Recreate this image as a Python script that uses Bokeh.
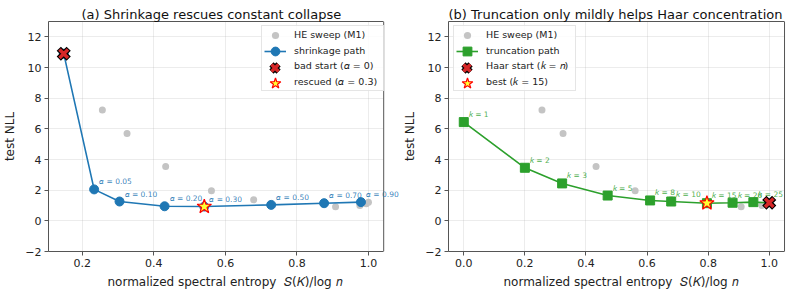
from bokeh.plotting import figure
from bokeh.layouts import row
from bokeh.models import (Range1d, FixedTicker, CustomJSTickFormatter,
                          Legend, LegendItem, Label, LinearAxis, Span,
                          BoxAnnotation)
from bokeh.embed import file_html
from bokeh.resources import INLINE

FONT = "DejaVu Sans"
BLUE = "#1f77b4"
GREEN = "#2ca02c"
RED = "#d62728"
GRAY = "#c4c4c4"
SPINE = "#555555"

# HE sweep (M1): normalized spectral entropy vs test NLL (shown in both panels)
he_entropy = [0.256, 0.325, 0.433, 0.561, 0.679, 0.908, 0.976, 0.994, 1.000]
he_nll = [7.23, 5.69, 3.55, 1.96, 1.37, 0.92, 1.00, 1.11, 1.22]

# (a) shrinkage path, alpha = 0 is the collapsed start
shrink_alpha = ["0", "0.05", "0.10", "0.20", "0.30", "0.50", "0.70", "0.90"]
shrink_entropy = [0.148, 0.233, 0.304, 0.430, 0.541, 0.728, 0.876, 0.979]
shrink_nll = [10.90, 2.05, 1.26, 0.95, 0.93, 1.04, 1.15, 1.22]
rescued_alpha = "0.30"

# (b) truncation path, k = n is the Haar start
trunc_k = ["1", "2", "3", "5", "8", "10", "15", "20", "25", "n"]
trunc_entropy = [0.000, 0.200, 0.322, 0.471, 0.610, 0.679, 0.796, 0.880, 0.948, 1.000]
trunc_nll = [6.44, 3.46, 2.44, 1.65, 1.33, 1.26, 1.15, 1.18, 1.22, 1.18]
best_k = "15"

y_ticks = [-2, 0, 2, 4, 6, 8, 10, 12]
x_ticks_a = [0.2, 0.4, 0.6, 0.8, 1.0]
x_ticks_b = [0.0, 0.2, 0.4, 0.6, 0.8, 1.0]

HEIGHT = 291
BORDER_TOP = 21
BORDER_BOTTOM = 40
FRAME_H = HEIGHT - BORDER_TOP - BORDER_BOTTOM

# legend box geometry (pixels)
LEG_ROW = 16
LEG_GLYPH_W = 26
LEG_STANDOFF = 6
LEG_LABEL_W = 89
LEG_W = LEG_GLYPH_W + LEG_STANDOFF + LEG_LABEL_W
LEG_H = 4 * LEG_ROW
LEG_INSET = 6


def padded(vals, frac=0.05):
    lo, hi = min(vals), max(vals)
    m = (hi - lo) * frac
    return lo - m, hi + m


def style_axis(ax):
    ax.axis_line_color = SPINE
    ax.major_tick_line_color = SPINE
    ax.major_tick_out = 4
    ax.major_tick_in = 0
    ax.minor_tick_line_color = None
    ax.major_label_text_font = FONT
    ax.major_label_text_font_size = "11px"
    ax.major_label_text_color = "#222222"
    ax.axis_label_text_font = FONT
    ax.axis_label_text_font_size = "12px"
    ax.axis_label_text_font_style = "normal"
    ax.axis_label_text_color = "#222222"
    ax.major_label_standoff = 3
    ax.axis_label_standoff = 5


def make_panel(title, width, border_left, axes_w, xr, x_ticks):
    """The plotting frame runs to the right edge of the figure so that point
    labels may spill past the axes box; the box itself is drawn at xr[1]."""
    frame_w = width - border_left
    x_lo, x_hi = xr
    x_ext = x_lo + (x_hi - x_lo) * frame_w / axes_w
    p = figure(width=width, height=HEIGHT, output_backend="svg",
               toolbar_location=None, x_range=Range1d(x_lo, x_ext),
               y_range=Range1d(-2, 13),
               min_border_left=border_left, min_border_right=0,
               min_border_top=BORDER_TOP, min_border_bottom=BORDER_BOTTOM)
    p.title.text = title
    p.title.align = "left"
    p.title.text_font = FONT
    p.title.text_font_size = "13px"
    p.title.text_font_style = "normal"
    p.title.text_color = "#111111"
    p.title.standoff = 0
    # centre the title over the axes box
    p.title.offset = max(0, (axes_w - 7.0 * len(title)) / 2)
    p.outline_line_color = None
    p.background_fill_color = "white"
    p.border_fill_color = "white"
    style_axis(p.xaxis[0])
    style_axis(p.yaxis[0])
    p.xaxis[0].bounds = (x_lo, x_hi)
    p.xaxis[0].ticker = FixedTicker(ticks=x_ticks)
    p.yaxis[0].ticker = FixedTicker(ticks=y_ticks)
    p.xaxis[0].formatter = CustomJSTickFormatter(code="return tick.toFixed(1);")
    p.yaxis[0].formatter = CustomJSTickFormatter(
        code="return tick < 0 ? '\u2212' + Math.abs(tick) : tick.toFixed(0);")
    p.xaxis[0].axis_label = ("normalized spectral entropy\u00a0 "
                             "\U0001D446(\U0001D43E)/log \U0001D45B")
    p.yaxis[0].axis_label = "test NLL"
    p.grid.grid_line_color = "#b0b0b0"
    p.grid.grid_line_alpha = 0.3
    p.grid.grid_line_width = 0.8
    # top edge of the axes box
    top = LinearAxis(ticker=FixedTicker(ticks=[]), bounds=(x_lo, x_hi),
                     axis_line_color=SPINE, major_tick_out=0, major_tick_in=0,
                     minor_tick_out=0, major_label_standoff=0,
                     major_label_text_font_size="0px")
    p.add_layout(top, "above")
    # blank the grid beyond the right edge of the axes box
    p.add_layout(BoxAnnotation(left=x_hi, fill_color="white", fill_alpha=1.0,
                               line_color=None, level="underlay"))
    p.add_layout(Span(location=x_hi, dimension="height", line_color=SPINE,
                      line_width=1))
    return p


def x_marker(p, x, y):
    outline = p.scatter([x], [y], marker="x", size=14, line_color="black",
                        line_width=6)
    fill = p.scatter([x], [y], marker="x", size=12, line_color=RED,
                     line_width=3.5)
    return [outline, fill]


def star_marker(p, x, y):
    return p.scatter([x], [y], marker="star", size=15, fill_color="#ffff33",
                     line_color="red", line_width=1.2)


def add_legend(p, entries, box_x, box_top):
    """entries: list of (label, renderers, glyph_w, glyph_h).
    One bordered legend carries the labels; each symbol is drawn by its own
    transparent legend so that it can be larger than the row height."""
    box_y = FRAME_H - box_top - LEG_H
    proxy = p.scatter(x=[], y=[], alpha=0)
    main = Legend(items=[LegendItem(label=e[0], renderers=[proxy]) for e in entries],
                  location=(box_x, box_y))
    main.label_text_font = FONT
    main.label_text_font_size = "9.5px"
    main.label_text_color = "#222222"
    main.padding = 0
    main.spacing = 0
    main.margin = 0
    main.label_height = LEG_ROW
    main.label_width = LEG_LABEL_W
    main.glyph_height = LEG_ROW
    main.glyph_width = LEG_GLYPH_W
    main.label_standoff = LEG_STANDOFF
    main.border_line_color = "#cccccc"
    main.border_line_width = 1
    main.background_fill_color = "white"
    main.background_fill_alpha = 0.85
    p.add_layout(main)
    for i, (_, rends, gw, gh) in enumerate(entries):
        cx = box_x + LEG_GLYPH_W / 2 + 0.5
        cy = box_y + LEG_H - LEG_ROW / 2 - LEG_ROW * i
        sym = Legend(items=[LegendItem(label=" ", renderers=rends)],
                     location=(cx - gw / 2, cy - gh / 2))
        sym.padding = 0
        sym.spacing = 0
        sym.margin = 0
        sym.glyph_width = gw
        sym.glyph_height = gh
        sym.label_height = gh
        sym.label_width = 0
        sym.label_standoff = 0
        sym.label_text_font_size = "1px"
        sym.border_line_color = None
        sym.background_fill_alpha = 0
        p.add_layout(sym)


# ---- panel (a) ----
AX_A = 339
pa = make_panel("(a) Shrinkage rescues constant collapse", 400, 44, AX_A,
                padded(shrink_entropy + he_entropy), x_ticks_a)
he_a = pa.scatter(he_entropy, he_nll, size=7, fill_color=GRAY, line_color=None)
path_a = pa.line(shrink_entropy, shrink_nll, line_color=BLUE, line_width=1.6)
dots_a = pa.scatter(shrink_entropy, shrink_nll, size=9, fill_color=BLUE,
                    line_color=BLUE)
for a, xv, yv in zip(shrink_alpha, shrink_entropy, shrink_nll):
    if a == "0":
        continue
    pa.add_layout(Label(x=xv, y=yv, text=f"\U0001D6FC = {a}", x_offset=5,
                        y_offset=3, text_font=FONT, text_font_size="7.5px",
                        text_color=BLUE, text_alpha=0.9,
                        text_baseline="bottom"))
bad_a = x_marker(pa, shrink_entropy[0], shrink_nll[0])
i_res = shrink_alpha.index(rescued_alpha)
star_a = star_marker(pa, shrink_entropy[i_res], shrink_nll[i_res])
add_legend(pa, [
    ("HE sweep (M1)", [he_a], 18, 18),
    ("shrinkage path", [path_a, dots_a], 22, 22),
    ("bad start (\U0001D6FC = 0)", bad_a, 25, 25),
    ("rescued (\U0001D6FC = 0.3)", [star_a], 28, 28),
], AX_A - 5 - LEG_W, LEG_INSET)

# ---- panel (b) ----
AX_B = 337
pb = make_panel("(b) Truncation only mildly helps Haar concentration", 392, 47,
                AX_B, padded(trunc_entropy + he_entropy), x_ticks_b)
he_b = pb.scatter(he_entropy, he_nll, size=7, fill_color=GRAY, line_color=None)
path_b = pb.line(trunc_entropy, trunc_nll, line_color=GREEN, line_width=1.6)
sq_b = pb.scatter(trunc_entropy[:-1], trunc_nll[:-1], marker="square", size=9,
                  fill_color=GREEN, line_color=GREEN)
for k, xv, yv in zip(trunc_k, trunc_entropy, trunc_nll):
    if k == "n":
        continue
    pb.add_layout(Label(x=xv, y=yv, text=f"\U0001D458 = {k}", x_offset=5,
                        y_offset=3, text_font=FONT, text_font_size="7.5px",
                        text_color=GREEN, text_alpha=0.85,
                        text_baseline="bottom"))
i_best = trunc_k.index(best_k)
star_b = star_marker(pb, trunc_entropy[i_best], trunc_nll[i_best])
haar_b = x_marker(pb, trunc_entropy[-1], trunc_nll[-1])
add_legend(pb, [
    ("HE sweep (M1)", [he_b], 18, 18),
    ("truncation path", [path_b, sq_b], 22, 22),
    ("Haar start (\U0001D458 = \U0001D45B)", haar_b, 25, 25),
    ("best (\U0001D458 = 15)", [star_b], 28, 28),
], 5, LEG_INSET)

layout = row(pa, pb)
open("out.html", "w").write(file_html(layout, INLINE))
